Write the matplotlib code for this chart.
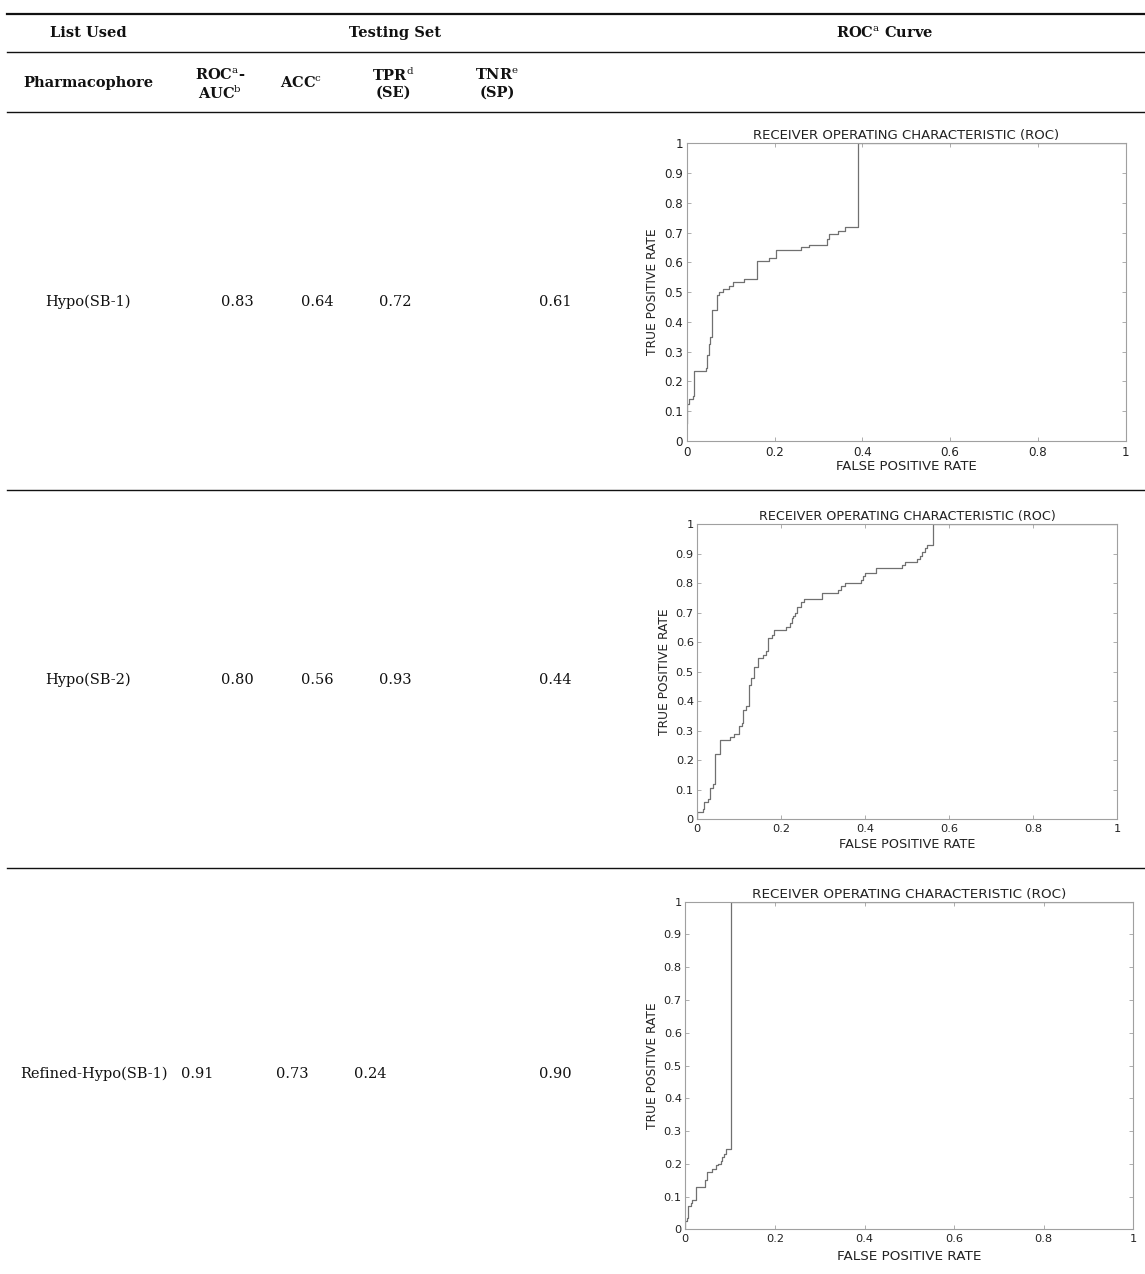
import numpy as np
import matplotlib
matplotlib.use("Agg")
import matplotlib.pyplot as plt
from matplotlib.lines import Line2D

# table content
pharmacophores = ["Hypo(SB-1)", "Hypo(SB-2)", "Refined-Hypo(SB-1)"]
roc_auc = ["0.83", "0.80", "0.91"]
acc = ["0.64", "0.56", "0.73"]
tpr_val = ["0.72", "0.93", "0.24"]
tnr_val = ["0.61", "0.44", "0.90"]

# ROC step curves: FPR where each jump happens, TPR after the jump
fpr_1 = [0, 0, 0.005, 0.014, 0.017, 0.044, 0.047, 0.051, 0.054, 0.058, 0.07, 0.073, 0.082,
         0.097, 0.105, 0.131, 0.16, 0.188, 0.203, 0.26, 0.279, 0.32, 0.324, 0.345, 0.361, 0.39, 1.0]
tpr_1 = [0.06, 0.125, 0.14, 0.15, 0.235, 0.245, 0.29, 0.325, 0.35, 0.44, 0.49, 0.50, 0.51,
         0.52, 0.535, 0.545, 0.605, 0.615, 0.64, 0.65, 0.66, 0.68, 0.695, 0.705, 0.72, 1.0, 1.0]

fpr_2 = [0, 0, 0.013, 0.016, 0.025, 0.03, 0.038, 0.042, 0.054, 0.078, 0.087, 0.1, 0.106, 0.11,
         0.117, 0.123, 0.129, 0.135, 0.145, 0.157, 0.163, 0.169, 0.177, 0.183, 0.211, 0.22,
         0.225, 0.229, 0.233, 0.238, 0.248, 0.254, 0.298, 0.336, 0.342, 0.352, 0.389, 0.395,
         0.399, 0.425, 0.487, 0.494, 0.524, 0.53, 0.536, 0.542, 0.548, 0.562, 1.0]
tpr_2 = [0, 0.025, 0.035, 0.06, 0.07, 0.105, 0.12, 0.22, 0.27, 0.28, 0.29, 0.315, 0.325, 0.37,
         0.385, 0.455, 0.48, 0.515, 0.545, 0.555, 0.57, 0.615, 0.625, 0.64, 0.65, 0.665,
         0.68, 0.69, 0.70, 0.72, 0.735, 0.745, 0.765, 0.775, 0.79, 0.80, 0.81, 0.825,
         0.835, 0.85, 0.86, 0.87, 0.88, 0.89, 0.905, 0.92, 0.93, 1.0, 1.0]

fpr_3 = [0, 0, 0.003, 0.007, 0.012, 0.015, 0.024, 0.045, 0.048, 0.06, 0.069, 0.072, 0.079,
         0.083, 0.087, 0.091, 0.103, 1.0]
tpr_3 = [0, 0.025, 0.035, 0.07, 0.08, 0.09, 0.128, 0.15, 0.175, 0.185, 0.195, 0.2, 0.21,
         0.22, 0.23, 0.245, 1.0, 1.0]

x_ticks = ["0", "0.2", "0.4", "0.6", "0.8", "1"]
y_ticks = ["0", "0.1", "0.2", "0.3", "0.4", "0.5", "0.6", "0.7", "0.8", "0.9", "1"]

W, H = 1145, 1274
fig = plt.figure(figsize=(W / 100, H / 100), dpi=100)
serif = "DejaVu Serif"
sans = "DejaVu Sans"
plt.rcParams["mathtext.fontset"] = "custom"
plt.rcParams["mathtext.rm"] = serif
plt.rcParams["mathtext.it"] = serif + ":italic"


def px(x, y):
    return x / W, 1 - y / H


def hline(y, lw):
    x0, y0 = px(7, y)
    fig.add_artist(Line2D([x0, 1], [y0, y0], color="#111111", lw=lw))


def cell(x, y, s, bold=False, size=10.5, ha="center"):
    fx, fy = px(x, y)
    fig.text(fx, fy, s, ha=ha, va="center", family=serif, fontsize=size,
             fontweight="bold" if bold else "normal", color="#111111")


# table rules
hline(14, 1.6)
hline(52, 1.0)
hline(112, 1.0)
hline(490, 1.0)
hline(868, 1.0)

# header rows
cell(88, 33, "List Used", bold=True)
cell(395, 33, "Testing Set", bold=True)
cell(885, 33, r"ROC$^{\rm a}$ Curve", bold=True)
cell(88, 83, "Pharmacophore", bold=True)
cell(220, 75, r"ROC$^{\rm a}$-", bold=True)
cell(220, 93, r"AUC$^{\rm b}$", bold=True)
cell(301, 83, r"ACC$^{\rm c}$", bold=True)
cell(393, 75, r"TPR$^{\rm d}$", bold=True)
cell(393, 93, "(SE)", bold=True)
cell(497, 75, r"TNR$^{\rm e}$", bold=True)
cell(497, 93, "(SP)", bold=True)

# body rows
row_y = [302, 680, 1074]
for i, y in enumerate(row_y):
    if i < 2:
        cell(88, y, pharmacophores[i])
        xs = [237, 317, 395, 555]
    else:
        cell(20, y, pharmacophores[i], ha="left")
        xs = [197, 292, 370, 555]
    for x, v in zip(xs, [roc_auc[i], acc[i], tpr_val[i], tnr_val[i]]):
        cell(x, y, v)

# ROC axes (pixel boxes: left, top, right, bottom)
boxes = [(686.7, 143.3, 1125.7, 441), (697.3, 524, 1117.3, 819.3), (685.3, 901.7, 1133.3, 1229.3)]
curves = [(fpr_1, tpr_1), (fpr_2, tpr_2), (fpr_3, tpr_3)]
tick_fs = [8.6, 8.2, 8.2]
title_fs = [9.5, 9.2, 9.7]
xlab_pad = [0.5, 2.5, 4]
grey = "#a0a0a0"
ink = "#222222"
for (l, t, r, b), (fx, ty), tfs, hfs, xp in zip(boxes, curves, tick_fs, title_fs, xlab_pad):
    ax = fig.add_axes([l / W, 1 - b / H, (r - l) / W, (b - t) / H])
    ax.step(fx, ty, where="post", color="#707070", lw=0.9)
    ax.set_xlim(0, 1)
    ax.set_ylim(0, 1)
    ax.set_xticks(np.linspace(0, 1, 6))
    ax.set_yticks(np.linspace(0, 1, 11))
    ax.set_xticklabels(x_ticks)
    ax.set_yticklabels(y_ticks)
    ax.tick_params(direction="in", top=True, right=True, length=3, width=0.6,
                   color=grey, labelsize=tfs, labelcolor=ink)
    ax.tick_params(axis="x", pad=3.5)
    ax.tick_params(axis="y", pad=2.5)
    for sp in ax.spines.values():
        sp.set_color(grey)
        sp.set_linewidth(0.8)
    for lab in ax.get_xticklabels() + ax.get_yticklabels():
        lab.set_family(sans)
    ax.set_title("RECEIVER OPERATING CHARACTERISTIC (ROC)", fontsize=hfs,
                 family=sans, pad=3, color=ink)
    ax.set_xlabel("FALSE POSITIVE RATE", fontsize=hfs, family=sans,
                  labelpad=xp, color=ink)
    ax.set_ylabel("TRUE POSITIVE RATE", fontsize=8.8, family=sans,
                  labelpad=3.5, color=ink)

fig.savefig("out.png", dpi=100)
